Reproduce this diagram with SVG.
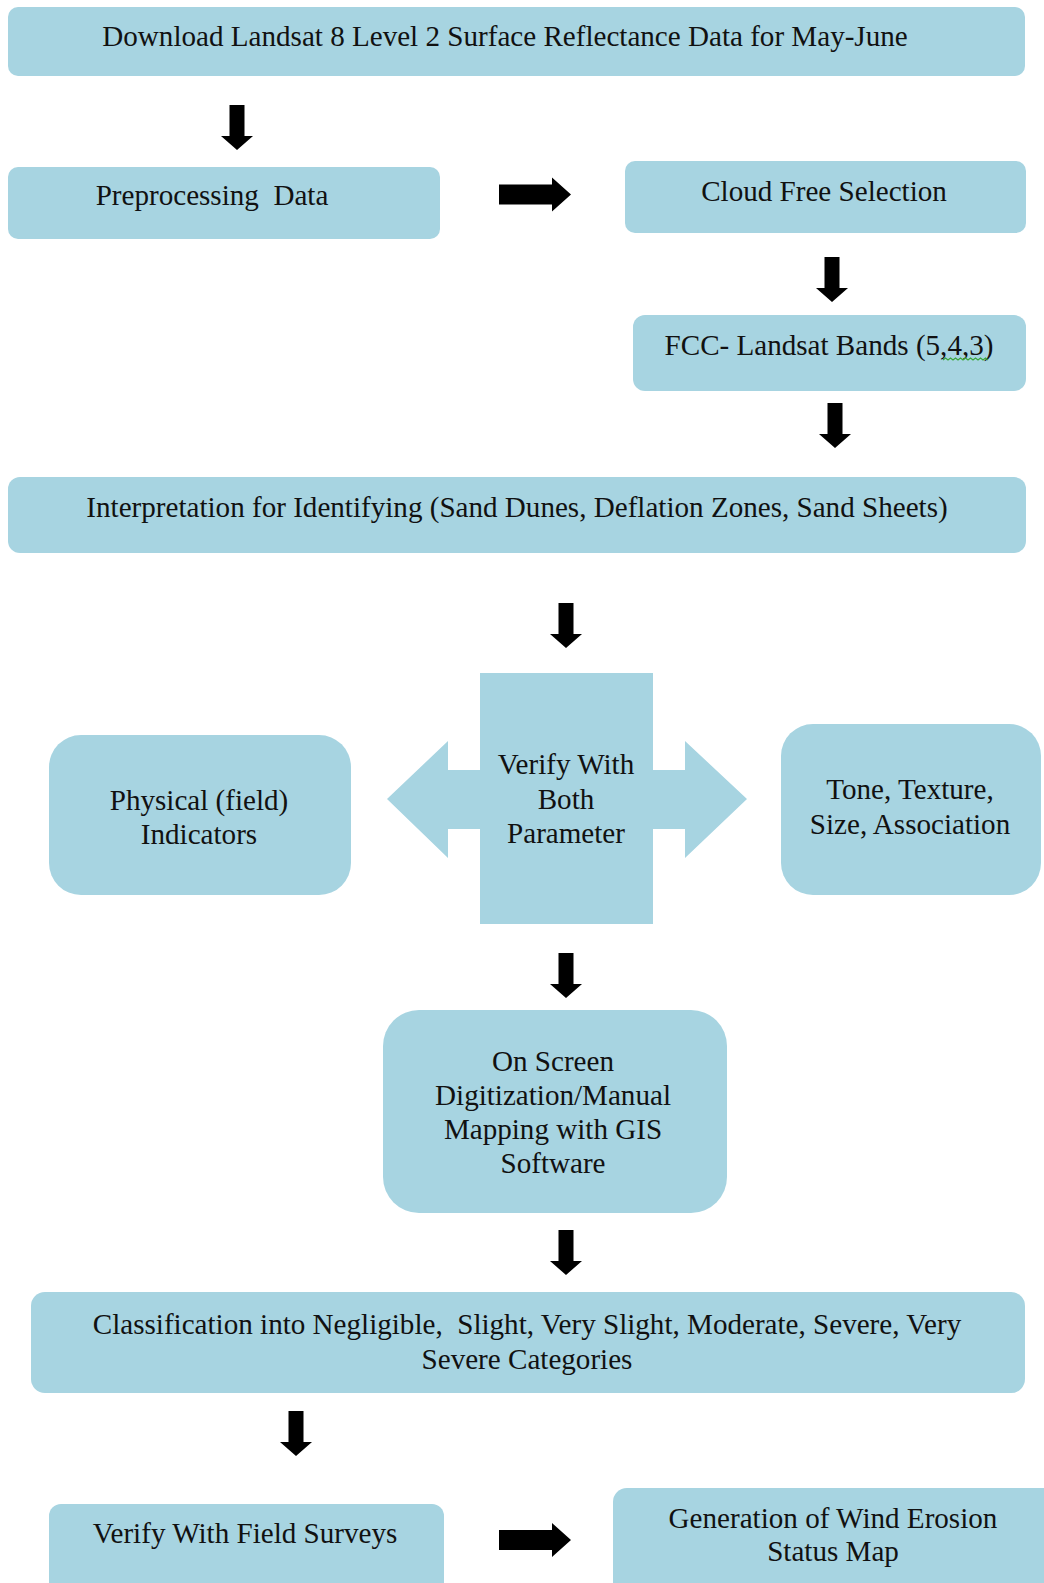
<svg xmlns="http://www.w3.org/2000/svg" xmlns:xlink="http://www.w3.org/1999/xlink" width="1044" height="1583" viewBox="0 0 1044 1583">
<style>
.box{fill:#a7d4e1;}
.t{font-family:"Liberation Serif","Times New Roman",serif;font-size:29.1px;fill:#111;text-anchor:middle;}
.arr{fill:#000;}
</style>
<defs>
<path id="down" d="M-7.5,0 H7.5 V31 H16 L0,45 L-16,31 H-7.5 Z"/>
<path id="right" d="M0,-10 H53 V-17 L72,0 L53,17 V10 H0 Z"/>
</defs>
<rect width="1044" height="1583" fill="#fff"/>

<g id="n-download">
<rect class="box" x="8" y="7" width="1017" height="69" rx="10"/>
<text class="t" x="505" y="45.5">Download Landsat 8 Level 2 Surface Reflectance Data for May-June</text>
</g>
<g id="n-preprocessing">
<rect class="box" x="8" y="167" width="432" height="72" rx="10"/>
<text class="t" x="212" y="205" style="white-space:pre">Preprocessing  Data</text>
</g>
<g id="n-cloud">
<rect class="box" x="625" y="161" width="401" height="72" rx="10"/>
<text class="t" x="824" y="200.5">Cloud Free Selection</text>
</g>
<g id="n-fcc">
<rect class="box" x="633" y="315" width="393" height="76" rx="12"/>
<text class="t" x="829" y="355">FCC- Landsat Bands (5,4,3)</text>
<path d="M943,360 l2.5,-2 l2.5,2 l2.5,-2 l2.5,2 l2.5,-2 l2.5,2 l2.5,-2 l2.5,2 l2.5,-2 l2.5,2 l2.5,-2 l2.5,2 l2.5,-2 l2.5,2 l2.5,-2 l2.5,2 l2.5,-2 l2.5,2" fill="none" stroke="#3aa83a" stroke-width="1.2"/>
</g>
<g id="n-interpretation">
<rect class="box" x="8" y="477" width="1018" height="76" rx="12"/>
<text class="t" x="517" y="517">Interpretation for Identifying (Sand Dunes, Deflation Zones, Sand Sheets)</text>
</g>
<g id="n-physical">
<rect class="box" x="49" y="735" width="302" height="160" rx="32"/>
<text class="t" x="199" y="810">Physical (field)</text>
<text class="t" x="199" y="844">Indicators</text>
</g>
<g id="n-verify-both">
<path class="box" d="M480,673 H653 V770 H685 V741 L747,799 L685,858 V829 H653 V924 H480 V829 H448 V858 L387,799 L448,741 V770 H480 Z"/>
<text class="t" x="566" y="774">Verify With</text>
<text class="t" x="566" y="809">Both</text>
<text class="t" x="566" y="843">Parameter</text>
</g>
<g id="n-tone">
<rect class="box" x="781" y="724" width="260" height="171" rx="32"/>
<text class="t" x="910" y="799">Tone, Texture,</text>
<text class="t" x="910" y="834">Size, Association</text>
</g>
<g id="n-onscreen">
<rect class="box" x="383" y="1010" width="344" height="203" rx="36"/>
<text class="t" x="553" y="1071">On Screen</text>
<text class="t" x="553" y="1105">Digitization/Manual</text>
<text class="t" x="553" y="1139">Mapping with GIS</text>
<text class="t" x="553" y="1173">Software</text>
</g>
<g id="n-classification">
<rect class="box" x="31" y="1292" width="994" height="101" rx="14"/>
<text class="t" x="527" y="1334" style="white-space:pre">Classification into Negligible,  Slight, Very Slight, Moderate, Severe, Very</text>
<text class="t" x="527" y="1369">Severe Categories</text>
</g>
<g id="n-fieldsurveys">
<rect class="box" x="49" y="1504" width="395" height="100" rx="12"/>
<text class="t" x="245" y="1543">Verify With Field Surveys</text>
</g>
<g id="n-generation">
<rect class="box" x="613" y="1488" width="451" height="115" rx="14"/>
<text class="t" x="833" y="1528">Generation of Wind Erosion</text>
<text class="t" x="833" y="1561">Status Map</text>
</g>

<g id="connectors" class="arr">
<use xlink:href="#down" x="237" y="105"/>
<use xlink:href="#right" x="499" y="194.5"/>
<use xlink:href="#down" x="832" y="257"/>
<use xlink:href="#down" x="835" y="403"/>
<use xlink:href="#down" x="566" y="603"/>
<use xlink:href="#down" x="566" y="953"/>
<use xlink:href="#down" x="566" y="1230"/>
<use xlink:href="#down" x="296" y="1411"/>
<use xlink:href="#right" x="499" y="1540"/>
</g>
</svg>
